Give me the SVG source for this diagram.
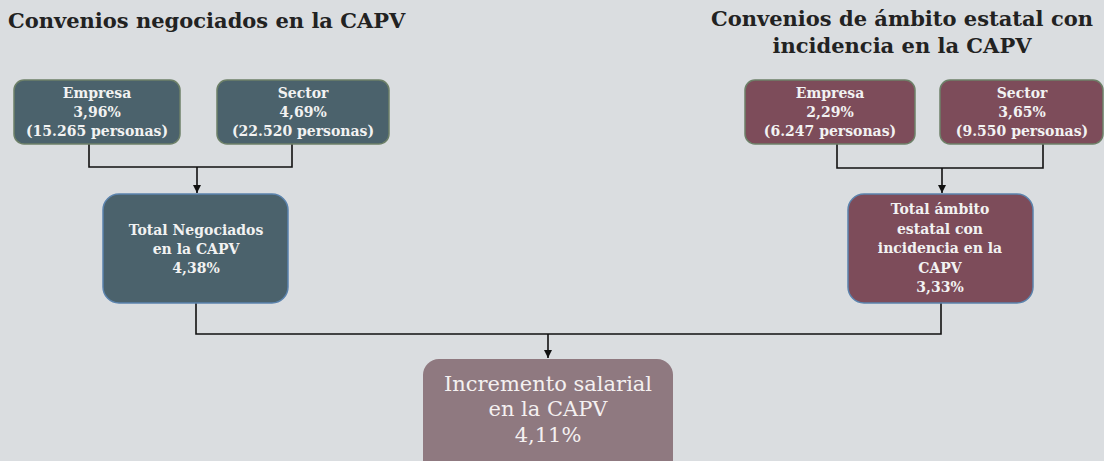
<svg xmlns="http://www.w3.org/2000/svg" width="1104" height="461" viewBox="0 0 1104 461">
<defs>
<marker id="arr" viewBox="0 0 10 10" refX="10" refY="5" markerWidth="8" markerHeight="8" markerUnits="userSpaceOnUse" orient="auto"><path d="M0,0 L10,5 L0,10 z" fill="#111"/></marker>
<style>
.title{font-family:"DejaVu Serif","Liberation Serif",serif;font-size:21px;font-weight:bold;fill:#222;}
.t{font-family:"DejaVu Serif","Liberation Serif",serif;font-size:14px;font-weight:bold;fill:#f2f2f2;text-anchor:middle;}
.big{font-family:"DejaVu Serif","Liberation Serif",serif;font-size:21px;fill:#f4f0f0;text-anchor:middle;}
.blue{fill:#4b626c;stroke:#6d8068;stroke-width:1.5;}
.red{fill:#7d4c5a;stroke:#6d8068;stroke-width:1.5;}
.blueT{fill:#4b626c;stroke:#5b83ad;stroke-width:1.5;}
.redT{fill:#7d4c5a;stroke:#5b83ad;stroke-width:1.5;}
.c{fill:none;stroke:#111;stroke-width:1.6;}
</style>
</defs>
<rect width="1104" height="461" fill="#dadde0"/>
<text class="title" x="8" y="28">Convenios negociados en la CAPV</text>
<text class="title" x="902" y="26" text-anchor="middle">Convenios de ámbito estatal con</text>
<text class="title" x="902" y="53" text-anchor="middle">incidencia en la CAPV</text>
<g id="connectors">
<path class="c" d="M89,144 V167 H292 V144"/>
<path class="c" d="M197,167 V193" marker-end="url(#arr)"/>
<path class="c" d="M837,144 V168 H1043 V144"/>
<path class="c" d="M942,168 V193" marker-end="url(#arr)"/>
<path class="c" d="M196,303 V334 H941 V303"/>
<path class="c" d="M548,334 V358" marker-end="url(#arr)"/>
</g>
<g id="empresa-capv">
<rect class="blue" x="14" y="80" width="166" height="64" rx="10"/>
<text class="t" x="97" y="98">Empresa</text>
<text class="t" x="97" y="117">3,96%</text>
<text class="t" x="97" y="136">(15.265 personas)</text>
</g>
<g id="sector-capv">
<rect class="blue" x="217" y="80" width="172" height="64" rx="10"/>
<text class="t" x="303" y="98">Sector</text>
<text class="t" x="303" y="117">4,69%</text>
<text class="t" x="303" y="136">(22.520 personas)</text>
</g>
<g id="total-capv">
<rect class="blueT" x="103" y="194" width="185" height="109" rx="16"/>
<text class="t" x="196" y="235">Total Negociados</text>
<text class="t" x="196" y="254">en la CAPV</text>
<text class="t" x="196" y="273">4,38%</text>
</g>
<g id="empresa-estatal">
<rect class="red" x="745" y="80" width="170" height="64" rx="10"/>
<text class="t" x="830" y="98">Empresa</text>
<text class="t" x="830" y="117">2,29%</text>
<text class="t" x="830" y="136">(6.247 personas)</text>
</g>
<g id="sector-estatal">
<rect class="red" x="940" y="80" width="163" height="64" rx="10"/>
<text class="t" x="1022" y="98">Sector</text>
<text class="t" x="1022" y="117">3,65%</text>
<text class="t" x="1022" y="136">(9.550 personas)</text>
</g>
<g id="total-estatal">
<rect class="redT" x="848" y="194" width="185" height="109" rx="16"/>
<text class="t" x="940" y="214">Total ámbito</text>
<text class="t" x="940" y="234">estatal con</text>
<text class="t" x="940" y="253">incidencia en la</text>
<text class="t" x="940" y="273">CAPV</text>
<text class="t" x="940" y="292">3,33%</text>
</g>
<g id="incremento">
<rect x="423" y="359" width="250" height="120" rx="16" fill="#8f7980"/>
<text class="big" x="548" y="391">Incremento salarial</text>
<text class="big" x="548" y="416">en la CAPV</text>
<text class="big" x="548" y="442">4,11%</text>
</g>
</svg>
